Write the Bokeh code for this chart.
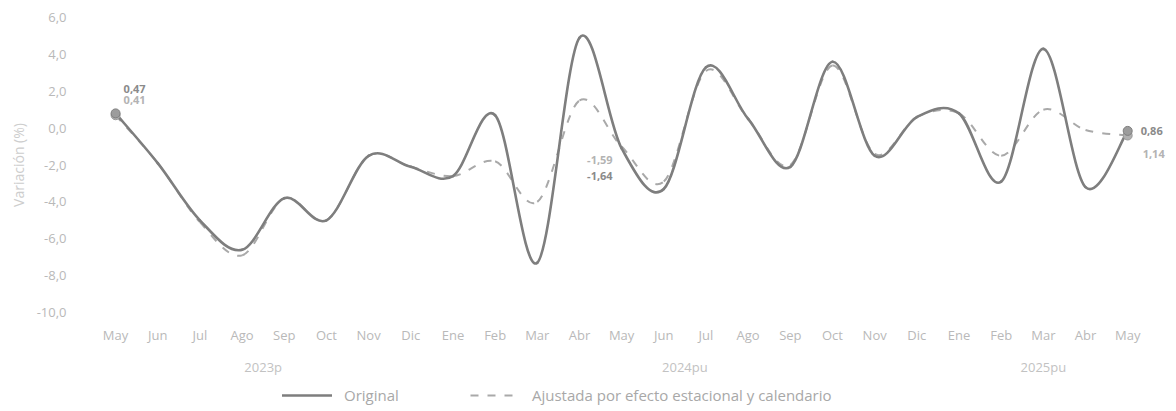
import numpy as np
from bokeh.plotting import figure
from bokeh.layouts import column
from bokeh.models import (Range1d, FixedTicker, LinearAxis, Legend, LegendItem,
                          ColumnDataSource)
from bokeh.core.properties import value
from bokeh.embed import file_html
from bokeh.resources import INLINE

# ---------------- data ----------------
months = ["May", "Jun", "Jul", "Ago", "Sep", "Oct", "Nov", "Dic",
          "Ene", "Feb", "Mar", "Abr", "May", "Jun", "Jul", "Ago", "Sep", "Oct", "Nov", "Dic",
          "Ene", "Feb", "Mar", "Abr", "May"]
years = ["2023p", "2024pu", "2025pu"]
months_per_year = [8, 12, 5]

original = [0.8, -1.9, -5.0, -6.6, -3.8, -5.0, -1.5, -2.1,
            -2.6, 0.7, -7.3, 4.9, -1.1, -3.3, 3.3, 0.5, -2.1, 3.6, -1.5, 0.6,
            0.8, -2.9, 4.3, -3.2, -0.15]
adjusted = [0.7, -1.9, -5.1, -6.9, -3.8, -5.0, -1.5, -2.1,
            -2.6, -1.8, -4.0, 1.5, -1.0, -2.9, 3.1, 0.5, -2.0, 3.4, -1.4, 0.6,
            0.8, -1.5, 1.0, -0.1, -0.4]

y_ticks = [-10, -8, -6, -4, -2, 0, 2, 4, 6]
y_tick_labels = ["-10,0", "-8,0", "-6,0", "-4,0", "-2,0", "0,0", "2,0", "4,0", "6,0"]

label_idx = [0, 12, 24]
original_labels = ["0,47", "-1,64", "0,86"]
adjusted_labels = ["0,41", "-1,59", "1,14"]

series_names = ["Original", "Ajustada por efecto estacional y calendario"]
y_title = "Variación (%)"

# ---------------- styling ----------------
FONT = "Open Sans"
C_TICK = "#b9b9b9"
ORIG_STYLE = dict(line_color="#7e7e7e", line_width=2.6, line_cap="round")
ADJ_STYLE = dict(line_color="#a9a9a9", line_width=2, line_dash="8 9")

x_idx = np.arange(len(months), dtype=float)


def smooth_source(values):
    """Excel-like smoothed line: cubic Bezier control points from neighbouring data points."""
    y = np.asarray(values, dtype=float)
    x = x_idx
    xp = np.concatenate([[x[0]], x, [x[-1]]])
    yp = np.concatenate([[y[0]], y, [y[-1]]])
    i = np.arange(len(y) - 1)
    return ColumnDataSource(dict(
        x0=x[:-1], y0=y[:-1], x1=x[1:], y1=y[1:],
        cx0=x[:-1] + (xp[i + 2] - xp[i]) / 6.0,
        cy0=y[:-1] + (yp[i + 2] - yp[i]) / 6.0,
        cx1=x[1:] - (xp[i + 3] - xp[i + 1]) / 6.0,
        cy1=y[1:] - (yp[i + 3] - yp[i + 1]) / 6.0,
    ))


p = figure(frame_width=1080, frame_height=295,
           x_range=Range1d(-0.5, 25.11), y_range=Range1d(-10, 6),
           output_backend="svg", toolbar_location=None,
           min_border_left=94, min_border_right=1, min_border_top=17, min_border_bottom=68,
           outline_line_color=None, background_fill_color="white",
           border_fill_color="white")
p.xgrid.visible = False
p.ygrid.visible = False

# y axis
ya = p.yaxis[0]
ya.ticker = FixedTicker(ticks=y_ticks)
ya.major_label_overrides = {t: l for t, l in zip(y_ticks, y_tick_labels)}
ya.axis_line_color = None
ya.major_tick_line_color = None
ya.minor_tick_line_color = None
ya.major_label_standoff = 22
ya.major_label_text_font = FONT
ya.major_label_text_font_size = "13px"
ya.major_label_text_color = C_TICK
ya.axis_label = y_title
ya.axis_label_text_font = FONT
ya.axis_label_text_font_size = "14px"
ya.axis_label_text_font_style = "normal"
ya.axis_label_text_color = "#cdcdcd"
ya.axis_label_standoff = 6

# month axis
xa = p.xaxis[0]
xa.ticker = FixedTicker(ticks=list(range(len(months))))
xa.major_label_overrides = {i: m for i, m in enumerate(months)}
xa.axis_line_color = None
xa.major_tick_line_color = None
xa.minor_tick_line_color = None
xa.major_tick_out = 0
xa.major_label_standoff = 13
xa.major_label_text_font = FONT
xa.major_label_text_font_size = "13px"
xa.major_label_text_color = C_TICK

# year axis (group centres computed from months per year)
starts = np.cumsum([0] + months_per_year[:-1])
centres = [float(s + (n - 1) / 2.0) for s, n in zip(starts, months_per_year)]
yr_axis = LinearAxis(ticker=FixedTicker(ticks=centres),
                     major_label_overrides={c: y for c, y in zip(centres, years)})
yr_axis.axis_line_color = None
yr_axis.major_tick_line_color = None
yr_axis.minor_tick_line_color = None
yr_axis.major_tick_out = 0
yr_axis.major_label_standoff = 11
yr_axis.major_label_text_font = FONT
yr_axis.major_label_text_font_size = "13px"
yr_axis.major_label_text_color = "#c2c2c2"
p.add_layout(yr_axis, "below")

# lines
p.bezier(x0="x0", y0="y0", x1="x1", y1="y1", cx0="cx0", cy0="cy0",
         cx1="cx1", cy1="cy1", source=smooth_source(adjusted), **ADJ_STYLE)
p.bezier(x0="x0", y0="y0", x1="x1", y1="y1", cx0="cx0", cy0="cy0",
         cx1="cx1", cy1="cy1", source=smooth_source(original), **ORIG_STYLE)

# end markers
ends = [0, len(months) - 1]
p.scatter(x=[x_idx[i] for i in ends], y=[adjusted[i] for i in ends], size=9,
          fill_color="#b0b0b0", line_color="#9a9a9a", line_width=1)
p.scatter(x=[x_idx[i] for i in ends], y=[original[i] for i in ends], size=9,
          fill_color="#9c9c9c", line_color="#7e7e7e", line_width=1)

# data labels
orig_offsets = [(8, -24, "left"), (-9, 28, "right"), (13, 0, "left")]
adj_offsets = [(8, -15, "left"), (-9, 13, "right"), (15, 18, "left")]
for labels, vals, offs, col in [(original_labels, original, orig_offsets, "#8a8a8a"),
                                (adjusted_labels, adjusted, adj_offsets, "#b3b3b3")]:
    for k, i in enumerate(label_idx):
        dx, dy, al = offs[k]
        p.text(x=[x_idx[i]], y=[vals[i]], text=[labels[k]], x_offset=dx, y_offset=dy,
               text_align=al, text_baseline="middle", text_font=value(FONT),
               text_font_size="11px", text_color=col, text_font_style="bold")

# ---------------- legend strip (its own small figure under the chart) ----------------
pl = figure(width=1175, height=30, x_range=Range1d(0, 1), y_range=Range1d(0, 1),
            x_axis_location=None, y_axis_location=None, toolbar_location=None,
            output_backend="svg", min_border=0, outline_line_color=None,
            background_fill_color="white", border_fill_color="white")
pl.grid.visible = False
# legend-only renderers, placed outside the strip's visible range
l_orig = pl.line(x=[-5, -4], y=[-5, -4], **ORIG_STYLE)
l_adj = pl.line(x=[-5, -4], y=[-5, -4], **ADJ_STYLE)
leg = Legend(items=[LegendItem(label=series_names[0], renderers=[l_orig]),
                    LegendItem(label=series_names[1], renderers=[l_adj])],
             orientation="horizontal", location=(188, 5),
             glyph_width=50, glyph_height=16, label_height=16,
             label_standoff=12, label_width=70, spacing=56,
             padding=0, margin=0, border_line_color=None, background_fill_alpha=0,
             label_text_font=FONT, label_text_font_size="15px",
             label_text_color="#a8a8a8")
pl.add_layout(leg, "center")

open("out.html", "w").write(file_html(column(p, pl, spacing=0), INLINE))
